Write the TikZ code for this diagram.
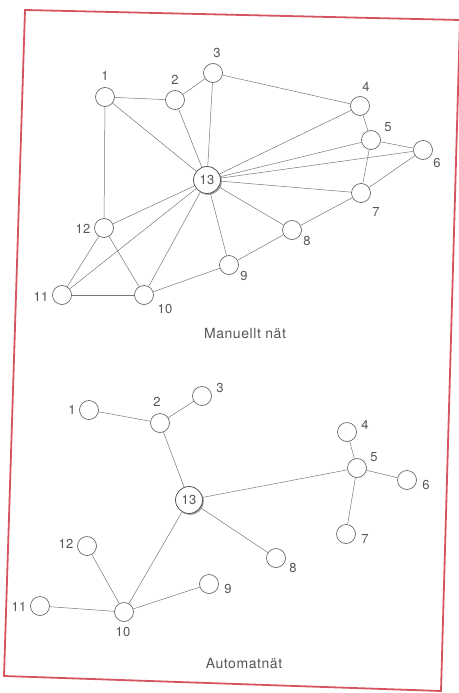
\documentclass[tikz,border=0pt]{standalone}
\usepackage{fontspec}
\setmainfont{TeX Gyre Heros}[LetterSpace=4]
\usetikzlibrary{shadows}
\definecolor{framered}{RGB}{214,84,94}
\definecolor{ink}{RGB}{85,85,85}
\tikzset{
  stn/.style={draw=ink, circle, minimum size=19pt, inner sep=0pt, fill=white, line width=0.6pt},
  hub/.style={stn, minimum size=27pt, line width=0.8pt, text=ink, font=\fontsize{13}{13}\selectfont},
  lnk/.style={draw=ink!80, line width=0.5pt},
  num/.style={text=ink, inner sep=0pt, font=\fontsize{13}{13}\selectfont},
  caption/.style={text=ink, inner sep=0pt, font=\fontsize{14}{16}\selectfont}
}
\begin{document}
\begin{tikzpicture}[x=1pt, y=-1pt]
    \useasboundingbox (0,0) rectangle (458,693);

    % Frame
    \draw[framered, line width=1.8pt] (25,10) -- (460,20) -- (441,691) -- (4,676) -- cycle;

    % Manual network: stations
    \node[stn] (m1) at (105,97) {};
    \node[stn] (m2) at (175,100) {};
    \node[stn] (m3) at (213,73) {};
    \node[stn] (m4) at (360,106) {};
    \node[stn] (m5) at (371,140) {};
    \node[stn] (m6) at (423,150) {};
    \node[stn] (m7) at (361,193) {};
    \node[stn] (m8) at (292,230) {};
    \node[stn] (m9) at (229,265) {};
    \node[stn] (m10) at (144,295) {};
    \node[stn] (m11) at (62,295) {};
    \node[stn] (m12) at (104,228) {};
    \node[hub, drop shadow={shadow xshift=1.3pt, shadow yshift=-1.3pt, fill=black!75}] (m13) at (207,180) {13};

    % Manual network: numbers
    \node[num] (lm1) at (105,76) {1};
    \node[num] (lm2) at (175,80) {2};
    \node[num] (lm3) at (217,53) {3};
    \node[num] (lm4) at (366,87) {4};
    \node[num] (lm5) at (388,127) {5};
    \node[num] (lm6) at (437,163) {6};
    \node[num] (lm7) at (376,212) {7};
    \node[num] (lm8) at (307,241) {8};
    \node[num] (lm9) at (244,276) {9};
    \node[num] (lm10) at (165,309) {10};
    \node[num] (lm11) at (41,297) {11};
    \node[num] (lm12) at (83,229) {12};

    % Manual network: links
    \draw[lnk] (m1) -- (m2);
    \draw[lnk] (m2) -- (m3);
    \draw[lnk] (m3) -- (m4);
    \draw[lnk] (m4) -- (m5);
    \draw[lnk] (m5) -- (m6);
    \draw[lnk] (m5) -- (m7);
    \draw[lnk] (m6) -- (m7);
    \draw[lnk] (m7) -- (m8);
    \draw[lnk] (m8) -- (m9);
    \draw[lnk] (m9) -- (m10);
    \draw[lnk] (m10) -- (m11);
    \draw[lnk] (m11) -- (m12);
    \draw[lnk] (m12) -- (m10);
    \draw[lnk] (m1) -- (m12);
    \draw[lnk] (m13) -- (m1);
    \draw[lnk] (m13) -- (m2);
    \draw[lnk] (m13) -- (m3);
    \draw[lnk] (m13) -- (m4);
    \draw[lnk] (m13) -- (m5);
    \draw[lnk] (m13) -- (m6);
    \draw[lnk] (m13) -- (m7);
    \draw[lnk] (m13) -- (m8);
    \draw[lnk] (m13) -- (m9);
    \draw[lnk] (m13) -- (m10);
    \draw[lnk] (m13) -- (m11);
    \draw[lnk] (m13) -- (m12);

    \node[caption] (mcap) at (245,333) {Manuellt nät};

    % Automatic network: stations
    \node[stn] (a1) at (89,410) {};
    \node[stn] (a2) at (160,423) {};
    \node[stn] (a3) at (202,396) {};
    \node[stn] (a4) at (347,432) {};
    \node[stn] (a5) at (357,468) {};
    \node[stn] (a6) at (407,480) {};
    \node[stn] (a7) at (346,534) {};
    \node[stn] (a8) at (276,558) {};
    \node[stn] (a9) at (209,584) {};
    \node[stn] (a10) at (124,612) {};
    \node[stn] (a11) at (40,606) {};
    \node[stn] (a12) at (87,546) {};
    \node[hub, drop shadow={shadow xshift=1.3pt, shadow yshift=-1.3pt, fill=black!75}] (a13) at (189,500) {13};

    % Automatic network: numbers
    \node[num] (la1) at (72,410) {1};
    \node[num] (la2) at (157,402) {2};
    \node[num] (la3) at (220,388) {3};
    \node[num] (la4) at (365,425) {4};
    \node[num] (la5) at (374,457) {5};
    \node[num] (la6) at (426,485) {6};
    \node[num] (la7) at (365,539) {7};
    \node[num] (la8) at (293,568) {8};
    \node[num] (la9) at (228,589) {9};
    \node[num] (la10) at (123,632) {10};
    \node[num] (la11) at (19,607) {11};
    \node[num] (la12) at (66,544) {12};

    % Automatic network: links
    \draw[lnk] (a1) -- (a2);
    \draw[lnk] (a2) -- (a3);
    \draw[lnk] (a2) -- (a13);
    \draw[lnk] (a13) -- (a5);
    \draw[lnk] (a5) -- (a4);
    \draw[lnk] (a5) -- (a6);
    \draw[lnk] (a5) -- (a7);
    \draw[lnk] (a13) -- (a8);
    \draw[lnk] (a13) -- (a10);
    \draw[lnk] (a10) -- (a12);
    \draw[lnk] (a10) -- (a11);
    \draw[lnk] (a10) -- (a9);

    \node[caption] (acap) at (244,663) {Automatnät};
  \end{tikzpicture}
\end{document}
